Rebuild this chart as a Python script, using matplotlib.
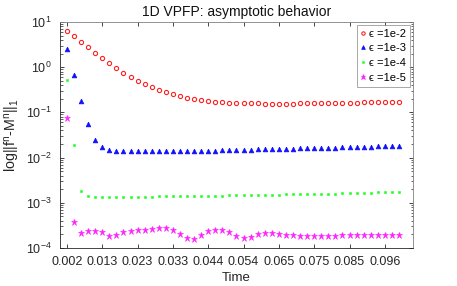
import numpy as np
import matplotlib
matplotlib.use("Agg")
import matplotlib.pyplot as plt
from matplotlib.ticker import LogLocator, NullFormatter

plt.rcParams['font.family'] = ['Liberation Sans', 'DejaVu Sans']
plt.rcParams['mathtext.fontset'] = 'custom'
plt.rcParams['mathtext.rm'] = 'Liberation Sans'

# time steps (dt = 1/480), 48 samples
steps = np.arange(1, 49)
time = steps / 480.0

eps_1e2 = [6.3, 4.9, 3.66, 2.75, 2.1, 1.57, 1.22, 0.95, 0.76, 0.61,
           0.50, 0.425, 0.365, 0.318, 0.283, 0.251, 0.231, 0.212, 0.198, 0.188,
           0.179, 0.173, 0.167, 0.163, 0.161, 0.160, 0.159, 0.158, 0.157, 0.157,
           0.157, 0.157, 0.157, 0.158, 0.158, 0.159, 0.160, 0.161, 0.162, 0.163,
           0.164, 0.165, 0.166, 0.167, 0.168, 0.169, 0.170, 0.172]
eps_1e3 = [2.53, 0.67, 0.179, 0.056, 0.0245, 0.017, 0.0145, 0.0140, 0.0137, 0.0137,
           0.0137, 0.0137, 0.0137, 0.0137, 0.0137, 0.0137, 0.0138, 0.0139, 0.0140, 0.0141,
           0.0142, 0.0143, 0.0145, 0.0146, 0.0147, 0.0148, 0.0150, 0.0151, 0.0152, 0.0154,
           0.0155, 0.0156, 0.0158, 0.0159, 0.0161, 0.0162, 0.0164, 0.0165, 0.0167, 0.0168,
           0.0170, 0.0171, 0.0173, 0.0174, 0.0176, 0.0177, 0.0179, 0.0180]
eps_1e4 = [0.52, 0.019, 0.00186, 0.00138, 0.00136, 0.00136, 0.00136, 0.00136, 0.00136, 0.00136,
           0.00136, 0.00137, 0.00137, 0.00138, 0.00138, 0.00139, 0.00140, 0.00140, 0.00141, 0.00142,
           0.00142, 0.00143, 0.00144, 0.00145, 0.00146, 0.00147, 0.00148, 0.00149, 0.00150, 0.00151,
           0.00152, 0.00153, 0.00154, 0.00155, 0.00156, 0.00157, 0.00158, 0.00159, 0.00160, 0.00162,
           0.00163, 0.00165, 0.00166, 0.00168, 0.00170, 0.00172, 0.00174, 0.00176]
eps_1e5 = [0.074, 0.00037, 0.00021, 0.000235, 0.00024, 0.00023, 0.000188, 0.000192, 0.00023, 0.000242,
           0.000245, 0.00025, 0.000262, 0.000278, 0.000272, 0.00025, 0.000204, 0.000166, 0.000158, 0.000197,
           0.000233, 0.00025, 0.000245, 0.00023, 0.000186, 0.000162, 0.000174, 0.000208, 0.000215, 0.00021,
           0.000202, 0.000195, 0.00019, 0.000186, 0.000184, 0.000184, 0.000185, 0.000186, 0.000188, 0.00019,
           0.000192, 0.000194, 0.000195, 0.000196, 0.000196, 0.000196, 0.000196, 0.000195]

labels = ['\u03f5 =1e-2', '\u03f5 =1e-3', '\u03f5 =1e-4', '\u03f5 =1e-5']
xtick_labels = ['0.002', '0.013', '0.023', '0.033', '0.044', '0.054', '0.065', '0.075', '0.085', '0.096']

fig = plt.figure(figsize=(4.57, 2.86), dpi=100)
ax = fig.add_axes([0.131, 0.133, 0.773, 0.790])

ax.semilogy(time, eps_1e2, 'o', color='#ff2020', mfc='none', ms=3.0, mew=0.8, label=labels[0])
ax.semilogy(time, eps_1e3, '^', color='#1010ff', ms=3.4, mew=0.5, label=labels[1])
ax.semilogy(time, eps_1e4, 's', color='#20ff20', ms=1.7, mew=0.4, label=labels[2])
ax.semilogy(time, eps_1e5, '*', color='#ff20ff', ms=4.6, mew=0.4, label=labels[3])

ax.set_xlim(0, 50 / 480.0)
ax.set_ylim(1e-4, 10)
ax.set_xticks(time[::5])
ax.set_xticklabels(xtick_labels)
ax.yaxis.set_major_locator(LogLocator(base=10, numticks=10))
ax.yaxis.set_minor_locator(LogLocator(base=10, subs=np.arange(2, 10), numticks=10))
ax.yaxis.set_minor_formatter(NullFormatter())

axcol = '#262626'
ax.tick_params(which='both', direction='in', top=True, right=True, colors=axcol, labelsize=9)
ax.tick_params(which='major', length=3, width=0.6)
ax.tick_params(axis='x', which='major', pad=6)
ax.tick_params(axis='y', which='major', pad=6)
ax.tick_params(which='minor', length=1.8, width=0.5)
for s in ax.spines.values():
    s.set_color('#808080')
    s.set_linewidth(0.6)
ax.spines['left'].set_color(axcol)
ax.spines['bottom'].set_color(axcol)

ax.set_title('1D VPFP: asymptotic behavior', fontsize=10, color='#111111', pad=4)
ax.set_xlabel('Time', fontsize=9.5, color=axcol, labelpad=3)
ax.set_ylabel(r'log||f$^{\rm n}$-M$^{\rm n}$||$_1$', fontsize=10.3, color=axcol, labelpad=3)

leg = ax.legend(loc='upper right', fontsize=8, frameon=True, fancybox=False,
                borderaxespad=0.25, handlelength=0.4, handletextpad=0.4,
                borderpad=0.35, labelspacing=0.42, markerscale=0.8)
leg.get_frame().set_edgecolor('#808080')
leg.get_frame().set_linewidth(0.6)

fig.savefig('out.png', dpi=100)
